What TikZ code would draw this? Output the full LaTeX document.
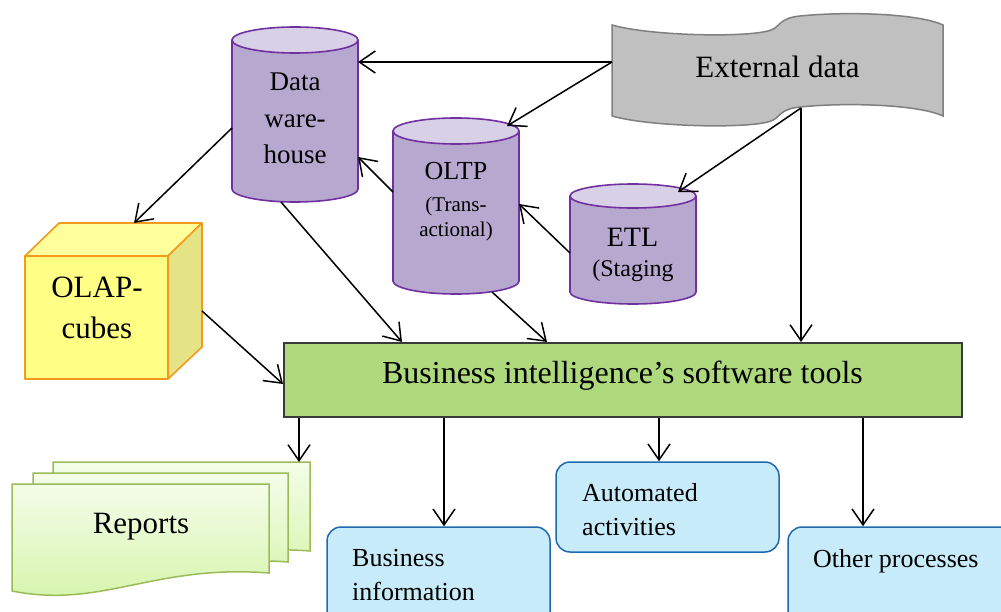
\documentclass[tikz,border=0pt]{standalone}
\usepackage{fontspec}
\setmainfont{Liberation Serif}
\usetikzlibrary{arrows.meta,calc}
\definecolor{cylbody}{HTML}{B7A8D0}
\definecolor{cyltop}{HTML}{D8D0E6}
\definecolor{cylline}{HTML}{7030A0}
\definecolor{extfill}{HTML}{C0C0C0}
\definecolor{extline}{HTML}{7F7F7F}
\definecolor{cubefront}{HTML}{FFFF86}
\definecolor{cubetop}{HTML}{FFFF9C}
\definecolor{cubeside}{HTML}{E4E487}
\definecolor{cubeline}{HTML}{F39A1C}
\definecolor{bifill}{HTML}{AEDA7D}
\definecolor{biline}{HTML}{3A3A3A}
\definecolor{reptop}{HTML}{F4FDE9}
\definecolor{repbot}{HTML}{D4F4A8}
\definecolor{repline}{HTML}{9BBB59}
\definecolor{bluefill}{HTML}{C7EBF9}
\definecolor{blueline}{HTML}{1F6AAE}
\newcommand{\drawcyl}[5]{%
  \filldraw[fill=cylbody,draw=cylline,line width=1.6pt] ({(#1+#2)/2},#4) ellipse [x radius={(#2-#1)/2}, y radius=#5];
  \fill[cylbody] (#1,#3) rectangle (#2,#4);
  \draw[cylline,line width=1.6pt] (#1,#3) -- (#1,#4) (#2,#3) -- (#2,#4);
  \filldraw[fill=cyltop,draw=cylline,line width=1.6pt] ({(#1+#2)/2},#3) ellipse [x radius={(#2-#1)/2}, y radius=#5];
}
\newcommand{\drawdoc}[3]{%
  \path[draw=repline,line width=1.5pt,top color=reptop,bottom color=repbot]
    (#1,#2) -- (#3,#2) -- (#3,{#2+89})
    .. controls ({#1+0.55*(#3-#1)},{#2+80}) and ({#1+0.35*(#3-#1)},{#2+125}) .. (#1,{#2+107}) -- cycle;
}
\begin{document}
\begin{tikzpicture}[x=1pt,y=-1pt,
  shapebox/.style={draw=none,inner sep=0pt,outer sep=0pt},
  arr/.style={line width=1.5pt,-{Straight Barb[length=16pt,width=22pt]}},
  bluebox/.style={draw=blueline,fill=bluefill,line width=1.5pt,rounded corners=14pt}]
\useasboundingbox (0,0) rectangle (1001,612);
\clip (0,0) rectangle (1001,612);

% ---------- External data (tape) ----------
\filldraw[fill=extfill,draw=extline,line width=1.5pt]
  (612,25) .. controls (650,36) and (750,38) .. (771,30)
  .. controls (780,27) and (779,18) .. (800,16)
  .. controls (850,11) and (920,14) .. (943,25)
  -- (943,116)
  .. controls (920,105) and (850,102) .. (800,107)
  .. controls (779,109) and (780,118) .. (771,121)
  .. controls (750,129) and (650,127) .. (612,116) -- cycle;
\node[shapebox,minimum width=331pt,minimum height=103pt] (ext) at (777.5,65.5) {};
\node[font=\fontsize{31}{36}\selectfont,anchor=base,inner sep=0pt] (extlabel) at (777.5,78) {External data};

% ---------- cylinders ----------
\drawcyl{232}{358}{40}{189}{13}
\node[shapebox,minimum width=126pt,minimum height=175pt] (dw) at (295,114.5) {};
\node[font=\fontsize{27}{36.5}\selectfont,align=center,anchor=base,inner sep=0pt] (dwlabel) at (295,164) {Data\\ware-\\house};

\drawcyl{393}{519}{131}{281}{13}
\node[shapebox,minimum width=126pt,minimum height=176pt] (oltp) at (456,206) {};
\node[font=\fontsize{26}{30}\selectfont,anchor=base,inner sep=0pt] (oltplabel) at (456,180) {OLTP};
\node[font=\fontsize{21}{25}\selectfont,align=center,anchor=base,inner sep=0pt] (oltpsub) at (456,237) {(Trans-\\actional)};

\drawcyl{570}{696}{196}{292}{12}
\node[shapebox,minimum width=126pt,minimum height=120pt] (etl) at (633,244) {};
\node[font=\fontsize{28}{32}\selectfont,anchor=base,inner sep=0pt] (etllabel) at (632.5,247) {ETL};
\node[font=\fontsize{24}{28}\selectfont,anchor=base,inner sep=0pt] (etlsub) at (633,277) {(Staging};

% ---------- OLAP cube ----------
\begin{scope}[draw=cubeline,line width=1.6pt,line join=round]
\filldraw[fill=cubefront] (25,256) rectangle (168,379);
\filldraw[fill=cubetop] (25,256) -- (59,223) -- (202,223) -- (168,256) -- cycle;
\filldraw[fill=cubeside] (168,256) -- (202,223) -- (202,347) -- (168,379) -- cycle;
\end{scope}
\node[shapebox,minimum width=143pt,minimum height=123pt] (olap) at (96.5,317.5) {};
\node[font=\fontsize{31}{41}\selectfont,align=center,anchor=base,inner sep=0pt] (olaplabel) at (97,338) {OLAP-\\cubes};

% ---------- BI box ----------
\node[draw=biline,fill=bifill,line width=2pt,minimum width=678pt,minimum height=74pt,inner sep=0pt] (bi) at (623,380) {};
\node[font=\fontsize{32}{36}\selectfont,anchor=base,inner sep=0pt] (bilabel) at (622.5,383) {Business intelligence’s software tools};

% ---------- Reports ----------
\drawdoc{53}{462}{310}
\drawdoc{33}{473}{288}
\drawdoc{12}{484}{269}
\node[shapebox,minimum width=257pt,minimum height=90pt] (rep3) at (181.5,507) {};
\node[font=\fontsize{31}{36}\selectfont,anchor=base,inner sep=0pt] (replabel) at (141,533) {Reports};

% ---------- blue boxes ----------
\node[bluebox,minimum width=223pt,minimum height=113pt,inner sep=0pt] (binfo) at (438.5,583.5) {};
\node[font=\fontsize{26}{33.5}\selectfont,align=left,anchor=base west,inner sep=0pt] (binfolabel) at (352,600) {Business\\information};
\node[bluebox,minimum width=223pt,minimum height=90pt,inner sep=0pt] (auto) at (667.5,507) {};
\node[font=\fontsize{26}{33.5}\selectfont,align=left,anchor=base west,inner sep=0pt] (autolabel) at (582,535) {Automated\\activities};
\node[bluebox,minimum width=225pt,minimum height=113pt,inner sep=0pt] (other) at (900.5,583.5) {};
\node[font=\fontsize{26}{33.5}\selectfont,align=left,anchor=base west,inner sep=0pt] (otherlabel) at (813,567) {Other processes};

% ---------- connector end points ----------
\coordinate (extw) at ([yshift=3.5pt]ext.west);
\coordinate (extb) at ([xshift=23.5pt,yshift=9pt]ext.south);
\coordinate (b1) at ([xshift=16pt]bi.south west);
\coordinate (b2) at ([xshift=161pt]bi.south west);
\coordinate (b3) at ([xshift=376pt]bi.south west);
\coordinate (b4) at ([xshift=580pt]bi.south west);

% ---------- connectors ----------
\draw[arr] (extw) -- (extw -| dw.east);
\draw[arr] (extw) -- ([xshift=-12pt,yshift=-8pt]oltp.north east);
\draw[arr] (extb) -- ([xshift=-18pt,yshift=-8pt]etl.north east);
\draw[arr] (extb) -- (extb |- bi.north);
\draw[arr] ([yshift=-9pt]etl.west) -- ([yshift=2pt]oltp.east);
\draw[arr] ([yshift=14pt]oltp.west) -- ([yshift=-42.5pt]dw.east);
\draw[arr] ([yshift=-13.5pt]dw.west) -- ([xshift=37.5pt,yshift=33pt]olap.north);
\draw[arr] ([xshift=-14pt]dw.south) -- ([xshift=119pt]bi.north west);
\draw[arr] ([xshift=36pt,yshift=2pt]oltp.south) -- ([xshift=264pt]bi.north west);
\draw[arr] ([xshift=34pt,yshift=6.5pt]olap.east) -- ([yshift=-4pt]bi.west);
\draw[arr] (b1) -- (b1 |- rep3.north);
\draw[arr] (b2) -- (b2 |- binfo.north);
\draw[arr] (b3) -- (b3 |- auto.north);
\draw[arr] (b4) -- (b4 |- other.north);
\end{tikzpicture}
\end{document}
